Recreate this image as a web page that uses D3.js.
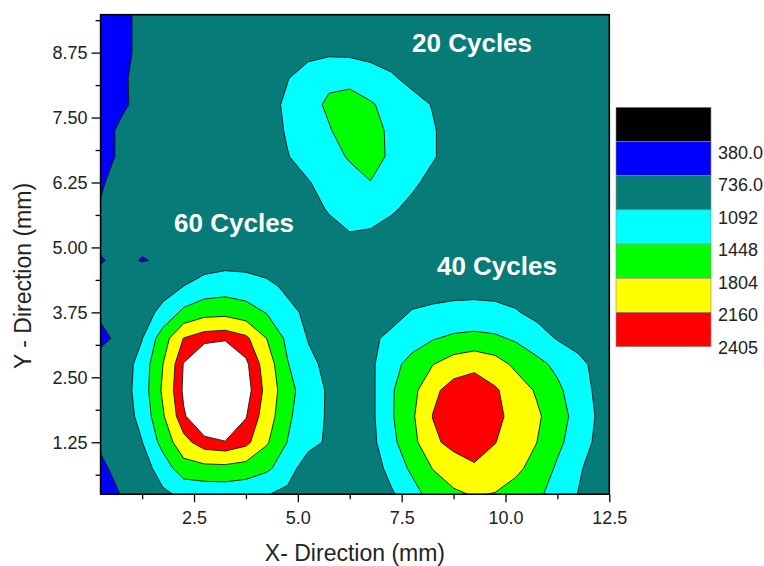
<!DOCTYPE html>
<html>
<head>
<meta charset="utf-8">
<script src="https://cdn.jsdelivr.net/npm/d3@7"></script>
<style>
body { margin: 0; background: #fff; }
svg text { font-family: "Liberation Sans", Arial, sans-serif; }
</style>
</head>
<body>
<div id="chart"></div>
<script>
// grid positions (mm)
var xGrid = [0.25, 0.75, 1.25, 1.75, 2.25, 2.75, 3.25, 3.75, 4.25, 4.75, 5.25, 5.75, 6.25,
             6.75, 7.25, 7.75, 8.25, 8.75, 9.25, 9.75, 10.25, 10.75, 11.25, 11.75, 12.25, 12.75];
var yGrid = [0.25, 0.75, 1.25, 1.75, 2.25, 2.75, 3.25, 3.75, 4.25, 4.75,
             5.25, 5.75, 6.25, 6.75, 7.25, 7.75, 8.25, 8.75, 9.25, 9.75];

// measured values, one row per yGrid entry (bottom row first)
var zRows = [
  [600, 745, 890, 1030, 1160, 1200, 1210, 1180, 1110, 1000, 940, 920, 910, 930, 1045, 1300, 1600, 1760, 1825, 1790, 1680, 1517, 1312, 1085, 950, 920],
  [680, 830, 930, 1260, 1650, 1700, 1710, 1650, 1510, 1274, 870, 900, 905, 900, 1210, 1519, 1815, 1950, 2120, 2000, 1870, 1696, 1394, 1130, 960, 925],
  [780, 880, 1085, 1570, 2050, 2330, 2390, 2250, 1846, 1440, 1219, 1030, 930, 981, 1352, 1697, 2080, 2280, 2300, 2170, 1984, 1808, 1531, 1265, 1005, 930],
  [830, 900, 1202, 1763, 2374, 2650, 2750, 2420, 2002, 1507, 1250, 1047, 960, 1004, 1408, 1750, 2170, 2330, 2360, 2250, 2040, 1864, 1608, 1312, 1040, 940],
  [850, 920, 1261, 1861, 2450, 2750, 2800, 2520, 2071, 1567, 1265, 1047, 970, 1004, 1408, 1694, 2080, 2300, 2330, 2200, 1991, 1765, 1521, 1253, 1010, 935],
  [800, 890, 1240, 1800, 2420, 2700, 2740, 2460, 2007, 1468, 1170, 1010, 950, 1026, 1323, 1575, 1795, 1980, 2080, 1960, 1729, 1551, 1367, 1173, 1000, 930],
  [700, 772, 1080, 1639, 2170, 2330, 2370, 2230, 1800, 1366, 1075, 960, 930, 1040, 1154, 1287, 1425, 1510, 1545, 1505, 1400, 1234, 1070, 980, 940, 925],
  [760, 850, 950, 1181, 1530, 1680, 1700, 1600, 1430, 1160, 1040, 950, 925, 930, 990, 1110, 1150, 1180, 1190, 1175, 1115, 1010, 950, 935, 925, 920],
  [830, 880, 910, 960, 1095, 1230, 1280, 1250, 1160, 1040, 960, 930, 920, 915, 920, 950, 970, 985, 990, 980, 960, 940, 930, 925, 920, 920],
  [720, 790, 725, 760, 870, 930, 970, 960, 940, 920, 910, 910, 915, 915, 915, 920, 925, 925, 925, 920, 920, 915, 915, 915, 915, 915],
  [800, 830, 800, 850, 880, 900, 910, 910, 910, 910, 910, 960, 1074, 1050, 960, 920, 915, 915, 915, 915, 915, 915, 915, 915, 915, 915],
  [760, 850, 880, 890, 900, 905, 905, 910, 910, 920, 950, 1130, 1260, 1240, 1140, 1010, 940, 920, 915, 915, 915, 915, 915, 915, 915, 915],
  [700, 860, 890, 900, 905, 905, 910, 910, 920, 940, 1075, 1202, 1330, 1440, 1310, 1150, 1000, 930, 915, 915, 915, 915, 915, 915, 915, 915],
  [650, 775, 870, 900, 910, 910, 915, 920, 950, 1080, 1206, 1336, 1480, 1560, 1400, 1263, 1120, 960, 925, 915, 915, 915, 915, 915, 915, 915],
  [650, 775, 870, 900, 905, 910, 915, 930, 960, 1122, 1275, 1426, 1580, 1560, 1390, 1258, 1120, 960, 925, 915, 915, 915, 915, 915, 915, 915],
  [600, 700, 800, 870, 900, 905, 910, 930, 980, 1147, 1342, 1500, 1580, 1480, 1344, 1212, 1075, 960, 925, 915, 915, 915, 915, 915, 915, 915],
  [600, 700, 810, 870, 900, 905, 910, 920, 950, 1080, 1260, 1380, 1360, 1260, 1140, 1000, 940, 920, 915, 915, 915, 915, 915, 915, 915, 915],
  [620, 700, 770, 860, 900, 905, 905, 910, 910, 950, 1000, 1037, 1030, 990, 950, 925, 915, 915, 915, 915, 915, 915, 915, 915, 915, 915],
  [600, 700, 770, 850, 890, 900, 905, 905, 910, 910, 915, 915, 915, 915, 915, 915, 915, 915, 915, 915, 915, 915, 915, 915, 915, 915],
  [600, 690, 780, 860, 890, 900, 905, 905, 910, 910, 915, 915, 915, 915, 915, 915, 915, 915, 915, 915, 915, 915, 915, 915, 915, 915]
];

var levels = [380, 736, 1092, 1448, 1804, 2160, 2405];
var levelColors = ["#000000", "#0000ff", "#077b77", "#00ffff", "#00ff00", "#ffff00", "#ff0000", "#ffffff"];
var legendLabels = ["380.0", "736.0", "1092", "1448", "1804", "2160", "2405"];

var xTicks = [2.5, 5.0, 7.5, 10.0, 12.5];
var xMinor = [1.25, 3.75, 6.25, 8.75, 11.25];
var yTicks = [1.25, 2.5, 3.75, 5.0, 6.25, 7.5, 8.75];
var yMinor = [0.625, 1.875, 3.125, 4.375, 5.625, 6.875, 8.125, 9.375];

var width = 764, height = 566;
var pLeft = 100.6, pRight = 609.3, pTop = 14.7, pBottom = 494.2;

var svg = d3.select("#chart").append("svg")
    .attr("width", width)
    .attr("height", height)
    .attr("xmlns", "http://www.w3.org/2000/svg");

var x = d3.scaleLinear().domain([0.25, 12.5]).range([pLeft, pRight]);
var y = d3.scaleLinear().domain([0.25, 9.48]).range([pBottom, pTop]);

var nx = xGrid.length, ny = yGrid.length;
// contour grid coordinates -> mm (value i sits at i + 0.5)
var gx = d3.scaleLinear().domain([0.5, nx - 0.5]).range([xGrid[0], xGrid[nx - 1]]);
var gy = d3.scaleLinear().domain([0.5, ny - 0.5]).range([yGrid[0], yGrid[ny - 1]]);

var values = [];
for (var j = 0; j < ny; j++) {
    for (var i = 0; i < nx; i++) values.push(zRows[j][i]);
}

var contours = d3.contours().size([nx, ny]).thresholds(levels)(values);

var path = d3.geoPath(d3.geoTransform({
    point: function(px, py) { this.stream.point(x(gx(px)), y(gy(py))); }
}));

svg.append("defs").append("clipPath").attr("id", "plotclip")
  .append("rect")
    .attr("x", pLeft).attr("y", pTop)
    .attr("width", pRight - pLeft).attr("height", pBottom - pTop);

var plot = svg.append("g").attr("clip-path", "url(#plotclip)");

plot.selectAll("path")
    .data(contours)
  .enter().append("path")
    .attr("d", path)
    .style("fill", function(d, k) { return levelColors[k + 1]; })
    .style("stroke", function(d, k) { return k == 0 ? "none" : "#151515"; })
    .style("stroke-width", 0.9)
    .style("stroke-linejoin", "round");

// labels on the map
function note(txt, mx, my) {
    svg.append("text")
        .attr("x", x(mx)).attr("y", y(my))
        .style("font-size", "26px")
        .style("font-weight", "bold")
        .style("fill", "#ffffff")
        .text(txt);
}
note("20 Cycles", 7.75, 8.77);
note("60 Cycles", 2.02, 5.30);
note("40 Cycles", 8.35, 4.47);

// axes
function styleAxis(g) {
    g.select(".domain").remove();
    g.attr("font-size", null).attr("font-family", null);
    g.selectAll("line").style("stroke", "#000").style("stroke-width", 1.3);
    g.selectAll("text")
        .style("font-size", "18px")
        .style("fill", "#222");
}

svg.append("g")
    .attr("transform", "translate(0," + pBottom + ")")
    .call(d3.axisBottom(x).tickValues(xTicks).tickSize(8).tickPadding(9).tickFormat(d3.format(".1f")))
    .call(styleAxis);
svg.append("g")
    .attr("transform", "translate(0," + pBottom + ")")
    .call(d3.axisBottom(x).tickValues(xMinor).tickSize(5).tickFormat(""))
    .call(styleAxis);

svg.append("g")
    .attr("transform", "translate(" + pLeft + ",0)")
    .call(d3.axisLeft(y).tickValues(yTicks).tickSize(9).tickPadding(4).tickFormat(d3.format(".2f")))
    .call(styleAxis);
svg.append("g")
    .attr("transform", "translate(" + pLeft + ",0)")
    .call(d3.axisLeft(y).tickValues(yMinor).tickSize(5).tickFormat(""))
    .call(styleAxis);

// frame
svg.append("rect")
    .attr("x", pLeft).attr("y", pTop)
    .attr("width", pRight - pLeft).attr("height", pBottom - pTop)
    .style("fill", "none")
    .style("stroke", "#000")
    .style("stroke-width", 1.6);

// axis titles
svg.append("text")
    .attr("x", (pLeft + pRight) / 2).attr("y", 561)
    .attr("text-anchor", "middle")
    .style("font-size", "23px")
    .style("fill", "#222")
    .text("X- Direction (mm)");

svg.append("text")
    .attr("transform", "translate(31,276) rotate(-90)")
    .attr("text-anchor", "middle")
    .style("font-size", "23px")
    .style("fill", "#222")
    .text("Y - Direction (mm)");

// colour legend
var lx = 616, lw = 95, ly = 107.3, lh = 34.2;
var legendColors = levelColors.slice(0, levelColors.length - 1);
for (var k = 0; k < legendColors.length; k++) {
    svg.append("rect")
        .attr("x", lx).attr("y", ly + lh * k)
        .attr("width", lw).attr("height", lh)
        .style("fill", legendColors[k])
        .style("stroke", "#8a8a8a")
        .style("stroke-width", 0.6);
}
var labelY = d3.scaleLinear().domain([0, legendLabels.length - 1]).range([152.5, 347.7]);
for (var k = 0; k < legendLabels.length; k++) {
    svg.append("text")
        .attr("x", 718).attr("y", labelY(k))
        .attr("dy", "0.35em")
        .style("font-size", "18px")
        .style("fill", "#222")
        .text(legendLabels[k]);
}
</script>
</body>
</html>
